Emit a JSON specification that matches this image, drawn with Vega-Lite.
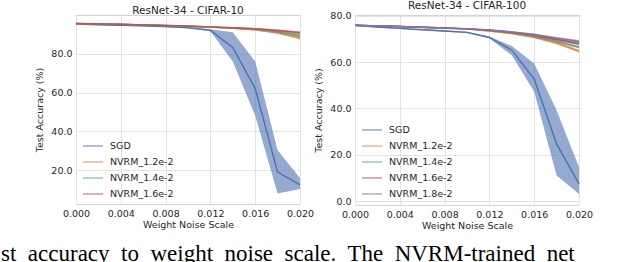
{
  "$schema": "https://vega.github.io/schema/vega-lite/v6.json",
  "padding": {"left": 1, "top": 0, "right": 0, "bottom": 0},
  "background": "white",
  "datasets": {
    "c10": [
      {"series": "SGD", "x": 0.000, "y": 95.2, "lo": 95.0, "hi": 95.4},
      {"series": "SGD", "x": 0.002, "y": 94.9, "lo": 94.7, "hi": 95.1},
      {"series": "SGD", "x": 0.004, "y": 94.6, "lo": 94.4, "hi": 94.8},
      {"series": "SGD", "x": 0.006, "y": 94.3, "lo": 94.0, "hi": 94.6},
      {"series": "SGD", "x": 0.008, "y": 93.9, "lo": 93.6, "hi": 94.2},
      {"series": "SGD", "x": 0.010, "y": 93.4, "lo": 93.0, "hi": 93.8},
      {"series": "SGD", "x": 0.012, "y": 92.0, "lo": 91.5, "hi": 92.5},
      {"series": "SGD", "x": 0.014, "y": 83.2, "lo": 76.0, "hi": 91.0},
      {"series": "SGD", "x": 0.016, "y": 62.0, "lo": 48.0, "hi": 76.0},
      {"series": "SGD", "x": 0.018, "y": 19.0, "lo": 8.0, "hi": 30.3},
      {"series": "SGD", "x": 0.020, "y": 12.5, "lo": 10.3, "hi": 16.0},
      {"series": "NVRM_1.2e-2", "x": 0.000, "y": 95.5, "lo": 95.3, "hi": 95.7},
      {"series": "NVRM_1.2e-2", "x": 0.002, "y": 95.3, "lo": 95.1, "hi": 95.5},
      {"series": "NVRM_1.2e-2", "x": 0.004, "y": 95.1, "lo": 94.9, "hi": 95.3},
      {"series": "NVRM_1.2e-2", "x": 0.006, "y": 94.8, "lo": 94.6, "hi": 95.0},
      {"series": "NVRM_1.2e-2", "x": 0.008, "y": 94.5, "lo": 94.3, "hi": 94.7},
      {"series": "NVRM_1.2e-2", "x": 0.010, "y": 94.1, "lo": 93.9, "hi": 94.3},
      {"series": "NVRM_1.2e-2", "x": 0.012, "y": 93.6, "lo": 93.3, "hi": 93.9},
      {"series": "NVRM_1.2e-2", "x": 0.014, "y": 93.0, "lo": 92.7, "hi": 93.3},
      {"series": "NVRM_1.2e-2", "x": 0.016, "y": 92.3, "lo": 91.9, "hi": 92.7},
      {"series": "NVRM_1.2e-2", "x": 0.018, "y": 90.7, "lo": 90.1, "hi": 91.3},
      {"series": "NVRM_1.2e-2", "x": 0.020, "y": 88.2, "lo": 87.3, "hi": 89.1},
      {"series": "NVRM_1.4e-2", "x": 0.000, "y": 95.5, "lo": 95.3, "hi": 95.7},
      {"series": "NVRM_1.4e-2", "x": 0.002, "y": 95.3, "lo": 95.1, "hi": 95.5},
      {"series": "NVRM_1.4e-2", "x": 0.004, "y": 95.1, "lo": 94.9, "hi": 95.3},
      {"series": "NVRM_1.4e-2", "x": 0.006, "y": 94.8, "lo": 94.6, "hi": 95.0},
      {"series": "NVRM_1.4e-2", "x": 0.008, "y": 94.5, "lo": 94.3, "hi": 94.7},
      {"series": "NVRM_1.4e-2", "x": 0.010, "y": 94.1, "lo": 93.9, "hi": 94.3},
      {"series": "NVRM_1.4e-2", "x": 0.012, "y": 93.7, "lo": 93.4, "hi": 94.0},
      {"series": "NVRM_1.4e-2", "x": 0.014, "y": 93.2, "lo": 92.9, "hi": 93.5},
      {"series": "NVRM_1.4e-2", "x": 0.016, "y": 92.6, "lo": 92.2, "hi": 93.0},
      {"series": "NVRM_1.4e-2", "x": 0.018, "y": 91.2, "lo": 90.6, "hi": 91.8},
      {"series": "NVRM_1.4e-2", "x": 0.020, "y": 89.4, "lo": 88.6, "hi": 90.2},
      {"series": "NVRM_1.6e-2", "x": 0.000, "y": 95.5, "lo": 95.3, "hi": 95.7},
      {"series": "NVRM_1.6e-2", "x": 0.002, "y": 95.3, "lo": 95.1, "hi": 95.5},
      {"series": "NVRM_1.6e-2", "x": 0.004, "y": 95.1, "lo": 94.9, "hi": 95.3},
      {"series": "NVRM_1.6e-2", "x": 0.006, "y": 94.8, "lo": 94.6, "hi": 95.0},
      {"series": "NVRM_1.6e-2", "x": 0.008, "y": 94.5, "lo": 94.3, "hi": 94.7},
      {"series": "NVRM_1.6e-2", "x": 0.010, "y": 94.2, "lo": 94.0, "hi": 94.4},
      {"series": "NVRM_1.6e-2", "x": 0.012, "y": 93.8, "lo": 93.5, "hi": 94.1},
      {"series": "NVRM_1.6e-2", "x": 0.014, "y": 93.3, "lo": 93.0, "hi": 93.6},
      {"series": "NVRM_1.6e-2", "x": 0.016, "y": 92.8, "lo": 92.4, "hi": 93.2},
      {"series": "NVRM_1.6e-2", "x": 0.018, "y": 91.9, "lo": 91.4, "hi": 92.4},
      {"series": "NVRM_1.6e-2", "x": 0.020, "y": 90.8, "lo": 90.1, "hi": 91.5}
    ],
    "c100": [
      {"series": "SGD", "x": 0.000, "y": 75.8, "lo": 75.6, "hi": 76.0},
      {"series": "SGD", "x": 0.002, "y": 75.2, "lo": 75.0, "hi": 75.4},
      {"series": "SGD", "x": 0.004, "y": 74.6, "lo": 74.4, "hi": 74.8},
      {"series": "SGD", "x": 0.006, "y": 74.0, "lo": 73.8, "hi": 74.2},
      {"series": "SGD", "x": 0.008, "y": 73.5, "lo": 73.2, "hi": 73.8},
      {"series": "SGD", "x": 0.010, "y": 72.9, "lo": 72.6, "hi": 73.2},
      {"series": "SGD", "x": 0.012, "y": 70.7, "lo": 70.3, "hi": 71.1},
      {"series": "SGD", "x": 0.014, "y": 65.2, "lo": 63.0, "hi": 67.0},
      {"series": "SGD", "x": 0.016, "y": 52.7, "lo": 47.2, "hi": 59.4},
      {"series": "SGD", "x": 0.018, "y": 24.7, "lo": 11.0, "hi": 39.2},
      {"series": "SGD", "x": 0.020, "y": 7.4, "lo": 3.0, "hi": 14.6},
      {"series": "NVRM_1.2e-2", "x": 0.000, "y": 76.0, "lo": 75.8, "hi": 76.2},
      {"series": "NVRM_1.2e-2", "x": 0.002, "y": 75.7, "lo": 75.5, "hi": 75.9},
      {"series": "NVRM_1.2e-2", "x": 0.004, "y": 75.4, "lo": 75.2, "hi": 75.6},
      {"series": "NVRM_1.2e-2", "x": 0.006, "y": 75.0, "lo": 74.8, "hi": 75.2},
      {"series": "NVRM_1.2e-2", "x": 0.008, "y": 74.7, "lo": 74.5, "hi": 74.9},
      {"series": "NVRM_1.2e-2", "x": 0.010, "y": 74.3, "lo": 74.1, "hi": 74.5},
      {"series": "NVRM_1.2e-2", "x": 0.012, "y": 73.5, "lo": 73.2, "hi": 73.8},
      {"series": "NVRM_1.2e-2", "x": 0.014, "y": 72.4, "lo": 72.1, "hi": 72.7},
      {"series": "NVRM_1.2e-2", "x": 0.016, "y": 70.8, "lo": 70.4, "hi": 71.2},
      {"series": "NVRM_1.2e-2", "x": 0.018, "y": 68.3, "lo": 67.8, "hi": 68.8},
      {"series": "NVRM_1.2e-2", "x": 0.020, "y": 64.8, "lo": 64.2, "hi": 65.4},
      {"series": "NVRM_1.4e-2", "x": 0.000, "y": 76.0, "lo": 75.8, "hi": 76.2},
      {"series": "NVRM_1.4e-2", "x": 0.002, "y": 75.7, "lo": 75.5, "hi": 75.9},
      {"series": "NVRM_1.4e-2", "x": 0.004, "y": 75.4, "lo": 75.2, "hi": 75.6},
      {"series": "NVRM_1.4e-2", "x": 0.006, "y": 75.1, "lo": 74.9, "hi": 75.3},
      {"series": "NVRM_1.4e-2", "x": 0.008, "y": 74.8, "lo": 74.6, "hi": 75.0},
      {"series": "NVRM_1.4e-2", "x": 0.010, "y": 74.4, "lo": 74.2, "hi": 74.6},
      {"series": "NVRM_1.4e-2", "x": 0.012, "y": 73.7, "lo": 73.4, "hi": 74.0},
      {"series": "NVRM_1.4e-2", "x": 0.014, "y": 72.7, "lo": 72.4, "hi": 73.0},
      {"series": "NVRM_1.4e-2", "x": 0.016, "y": 71.2, "lo": 70.8, "hi": 71.6},
      {"series": "NVRM_1.4e-2", "x": 0.018, "y": 69.0, "lo": 68.5, "hi": 69.5},
      {"series": "NVRM_1.4e-2", "x": 0.020, "y": 66.5, "lo": 65.9, "hi": 67.1},
      {"series": "NVRM_1.6e-2", "x": 0.000, "y": 76.0, "lo": 75.8, "hi": 76.2},
      {"series": "NVRM_1.6e-2", "x": 0.002, "y": 75.7, "lo": 75.5, "hi": 75.9},
      {"series": "NVRM_1.6e-2", "x": 0.004, "y": 75.4, "lo": 75.2, "hi": 75.6},
      {"series": "NVRM_1.6e-2", "x": 0.006, "y": 75.1, "lo": 74.9, "hi": 75.3},
      {"series": "NVRM_1.6e-2", "x": 0.008, "y": 74.8, "lo": 74.6, "hi": 75.0},
      {"series": "NVRM_1.6e-2", "x": 0.010, "y": 74.4, "lo": 74.2, "hi": 74.6},
      {"series": "NVRM_1.6e-2", "x": 0.012, "y": 73.8, "lo": 73.5, "hi": 74.1},
      {"series": "NVRM_1.6e-2", "x": 0.014, "y": 72.9, "lo": 72.6, "hi": 73.2},
      {"series": "NVRM_1.6e-2", "x": 0.016, "y": 71.6, "lo": 71.2, "hi": 72.0},
      {"series": "NVRM_1.6e-2", "x": 0.018, "y": 69.8, "lo": 69.3, "hi": 70.3},
      {"series": "NVRM_1.6e-2", "x": 0.020, "y": 68.0, "lo": 67.4, "hi": 68.6},
      {"series": "NVRM_1.8e-2", "x": 0.000, "y": 76.0, "lo": 75.8, "hi": 76.2},
      {"series": "NVRM_1.8e-2", "x": 0.002, "y": 75.7, "lo": 75.5, "hi": 75.9},
      {"series": "NVRM_1.8e-2", "x": 0.004, "y": 75.4, "lo": 75.2, "hi": 75.6},
      {"series": "NVRM_1.8e-2", "x": 0.006, "y": 75.1, "lo": 74.9, "hi": 75.3},
      {"series": "NVRM_1.8e-2", "x": 0.008, "y": 74.8, "lo": 74.6, "hi": 75.0},
      {"series": "NVRM_1.8e-2", "x": 0.010, "y": 74.5, "lo": 74.3, "hi": 74.7},
      {"series": "NVRM_1.8e-2", "x": 0.012, "y": 73.9, "lo": 73.6, "hi": 74.2},
      {"series": "NVRM_1.8e-2", "x": 0.014, "y": 73.1, "lo": 72.8, "hi": 73.4},
      {"series": "NVRM_1.8e-2", "x": 0.016, "y": 72.0, "lo": 71.6, "hi": 72.4},
      {"series": "NVRM_1.8e-2", "x": 0.018, "y": 70.4, "lo": 69.9, "hi": 70.9},
      {"series": "NVRM_1.8e-2", "x": 0.020, "y": 69.0, "lo": 68.4, "hi": 69.6}
    ]
  },
  "title": {
    "text": "st\u00a0 accuracy\u00a0 to\u00a0 weight\u00a0 noise\u00a0 scale.\u00a0 The\u00a0 NVRM-trained\u00a0 net",
    "orient": "bottom",
    "anchor": "start",
    "frame": "group",
    "font": "Liberation Serif",
    "fontSize": 23,
    "fontWeight": "normal",
    "color": "#000000",
    "offset": 12,
    "dx": -75
  },
  "spacing": 55,
  "bounds": "flush",
  "resolve": {"scale": {"color": "independent", "y": "independent"}, "legend": {"color": "independent"}},
  "config": {
    "font": "DejaVu Sans",
    "view": {"stroke": "#d4d4d4", "strokeWidth": 1},
    "axis": {
      "grid": true, "gridColor": "#e3e3e3", "gridWidth": 1,
      "domain": false, "ticks": false, "labelFlush": false,
      "labelFont": "DejaVu Sans", "labelFontSize": 9.5, "labelColor": "#262626", "labelPadding": 4,
      "titleFont": "DejaVu Sans", "titleFontSize": 9.5, "titleFontWeight": "normal", "titleColor": "#262626"
    },
    "legend": {
      "labelFont": "DejaVu Sans", "labelFontSize": 9.5, "labelColor": "#262626",
      "symbolType": "stroke", "symbolStrokeWidth": 1.5, "symbolSize": 400,
      "rowPadding": 0, "labelOffset": 6
    },
    "title": {"font": "DejaVu Sans", "fontSize": 10.5, "fontWeight": "normal", "color": "#262626", "offset": -1}
  },
  "hconcat": [
    {
      "width": 224, "height": 189,
      "title": "ResNet-34 - CIFAR-10",
      "data": {"name": "c10"},
      "layer": [
        {
          "mark": {"type": "area", "opacity": 0.6},
          "encoding": {
            "x": {"field": "x", "type": "quantitative"},
            "y": {"field": "lo", "type": "quantitative"},
            "y2": {"field": "hi"},
            "color": {"field": "series", "type": "nominal"}
          }
        },
        {
          "mark": {"type": "line", "strokeWidth": 1.4},
          "encoding": {
            "x": {"field": "x", "type": "quantitative",
              "scale": {"domain": [0, 0.02], "nice": false, "zero": false},
              "axis": {"values": [0, 0.004, 0.008, 0.012, 0.016, 0.02], "format": ".3f", "title": "Weight Noise Scale", "titlePadding": 2}},
            "y": {"field": "y", "type": "quantitative",
              "scale": {"domain": [2.6, 99.9], "nice": false, "zero": false},
              "axis": {"values": [20, 40, 60, 80], "format": ".1f", "title": "Test Accuracy (%)", "titlePadding": 6}},
            "color": {"field": "series", "type": "nominal",
              "scale": {"domain": ["SGD", "NVRM_1.2e-2", "NVRM_1.4e-2", "NVRM_1.6e-2"], "range": ["#4C72B0", "#DD8452", "#55A868", "#C44E52"]},
              "legend": {"title": null, "orient": "none", "legendX": 6, "legendY": 120}}
          }
        }
      ]
    },
    {
      "width": 224, "height": 190,
      "title": "ResNet-34 - CIFAR-100",
      "data": {"name": "c100"},
      "layer": [
        {
          "mark": {"type": "area", "opacity": 0.6},
          "encoding": {
            "x": {"field": "x", "type": "quantitative"},
            "y": {"field": "lo", "type": "quantitative"},
            "y2": {"field": "hi"},
            "color": {"field": "series", "type": "nominal"}
          }
        },
        {
          "mark": {"type": "line", "strokeWidth": 1.4},
          "encoding": {
            "x": {"field": "x", "type": "quantitative",
              "scale": {"domain": [0, 0.02], "nice": false, "zero": false},
              "axis": {"values": [0, 0.004, 0.008, 0.012, 0.016, 0.02], "format": ".3f", "title": "Weight Noise Scale", "titlePadding": 2}},
            "y": {"field": "y", "type": "quantitative",
              "scale": {"domain": [-1.7, 80.4], "nice": false, "zero": false},
              "axis": {"values": [0, 10, 20, 30, 40, 50, 60, 70, 80], "format": ".1f", "title": "Test Accuracy (%)", "titlePadding": 6}},
            "color": {"field": "series", "type": "nominal",
              "scale": {"domain": ["SGD", "NVRM_1.2e-2", "NVRM_1.4e-2", "NVRM_1.6e-2", "NVRM_1.8e-2"], "range": ["#4C72B0", "#DD8452", "#55A868", "#C44E52", "#8172B3"]},
              "legend": {"title": null, "orient": "none", "legendX": 6, "legendY": 104}}
          }
        }
      ]
    }
  ]
}
